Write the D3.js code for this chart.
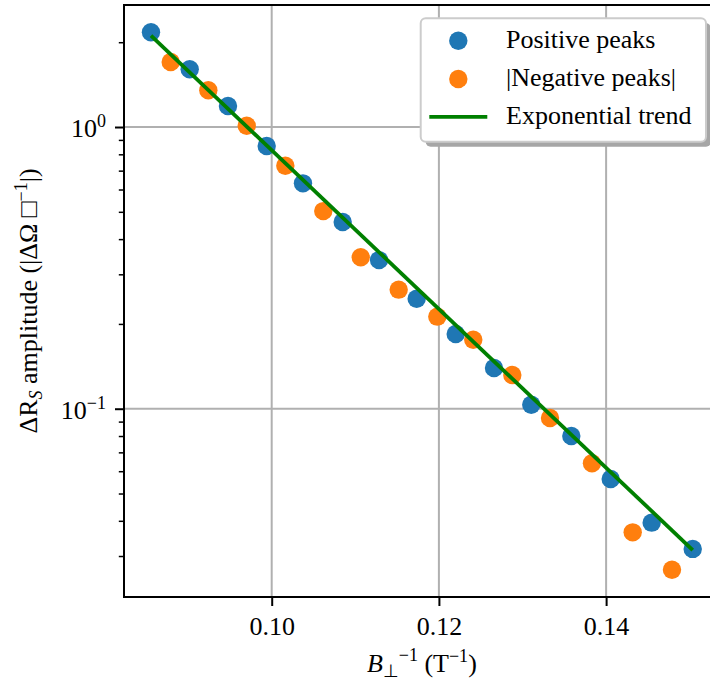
<!DOCTYPE html>
<html>
<head>
<meta charset="utf-8">
<script src="https://cdn.jsdelivr.net/npm/d3@7"></script>
<style>
  html, body { margin: 0; padding: 0; background: #fff; }
  svg { display: block; }
  text { font-family: "Liberation Serif", "Times New Roman", serif; fill: #000; }
</style>
</head>
<body>
<div id="chart"></div>
<script>
// ---- data ----
const posX = [0.08556, 0.09019, 0.09477, 0.09940, 0.10374, 0.10849, 0.11284, 0.11734,
              0.12201, 0.12659, 0.13105, 0.13584, 0.14055, 0.14545, 0.15036];
const posY = [2.169, 1.603, 1.187, 0.856, 0.631, 0.460, 0.337, 0.2458,
              0.1841, 0.1395, 0.1033, 0.0800, 0.0563, 0.0394, 0.0318];
const negX = [0.08792, 0.09242, 0.09701, 0.10163, 0.10617, 0.11065, 0.11519,
              0.11981, 0.12411, 0.12878, 0.13329, 0.13831, 0.14318, 0.14788];
const negY = [1.701, 1.350, 1.011, 0.729, 0.503, 0.345, 0.2646,
              0.2122, 0.1757, 0.1317, 0.0927, 0.0640, 0.0364, 0.0268];
const trendX = [0.08556, 0.15036];
const trendY = [2.110, 0.0315];

const xTicks = [0.10, 0.12, 0.14];
const xTickLabels = ["0.10", "0.12", "0.14"];
const yTicks = [1, 0.1];
const yTickExps = ["0", "\u22121"];
const yMinorTicks = [0.03, 0.04, 0.05, 0.06, 0.07, 0.08, 0.09,
                     0.2, 0.3, 0.4, 0.5, 0.6, 0.7, 0.8, 0.9, 2];
const legendLabels = ["Positive peaks", "|Negative peaks|", "Exponential trend"];

const colors = { pos: "#1f77b4", neg: "#ff7f0e", trend: "#008000", grid: "#b0b0b0" };

// ---- layout ----
const W = 710, H = 682;
const L = 124, T = 5, R = 719.7, B = 597;
const fs = 26;

const svg = d3.select("#chart").append("svg").attr("width", W).attr("height", H);

const x = d3.scaleLinear().domain([0.082333, 0.153587]).range([L, R]);
const y = d3.scaleLog().domain([0.02146, 2.711]).range([B, T]);

// grid
const grid = svg.append("g");
grid.selectAll("line.gx").data(xTicks).join("line")
  .attr("x1", d => x(d)).attr("x2", d => x(d)).attr("y1", T).attr("y2", B)
  .attr("stroke", colors.grid).attr("stroke-width", 2);
grid.selectAll("line.gy").data(yTicks).join("line")
  .attr("y1", d => y(d)).attr("y2", d => y(d)).attr("x1", L).attr("x2", R)
  .attr("stroke", colors.grid).attr("stroke-width", 2);

// points
const clip = svg.append("clipPath").attr("id", "clip").append("rect")
  .attr("x", L).attr("y", T).attr("width", R - L).attr("height", B - T);
const plot = svg.append("g").attr("clip-path", "url(#clip)");
plot.selectAll("circle.pos").data(posX).join("circle")
  .attr("cx", (d) => x(d)).attr("cy", (d, i) => y(posY[i])).attr("r", 9.2)
  .attr("fill", colors.pos);
plot.selectAll("circle.neg").data(negX).join("circle")
  .attr("cx", (d) => x(d)).attr("cy", (d, i) => y(negY[i])).attr("r", 9.2)
  .attr("fill", colors.neg);
const line = d3.line().x(d => x(d[0])).y(d => y(d[1]));
plot.append("path").datum(trendX.map((v, i) => [v, trendY[i]]))
  .attr("d", line).attr("fill", "none").attr("stroke", colors.trend)
  .attr("stroke-width", 3.8);

// axes
const xAxis = svg.append("g").attr("transform", `translate(0,${B})`)
  .call(d3.axisBottom(x).tickValues(xTicks).tickSize(9).tickSizeOuter(0)
    .tickFormat((d, i) => xTickLabels[i]));
xAxis.select(".domain").remove();
xAxis.selectAll(".tick line").attr("stroke", "#000").attr("stroke-width", 2);
xAxis.selectAll(".tick text").attr("y", 38).attr("dy", null)
  .attr("font-size", fs).attr("font-family", "Liberation Serif, serif");

const yAxis = svg.append("g").attr("transform", `translate(${L},0)`)
  .call(d3.axisLeft(y).tickValues(yTicks).tickSize(9).tickSizeOuter(0).tickFormat(""));
yAxis.select(".domain").remove();
yAxis.selectAll(".tick line").attr("stroke", "#000").attr("stroke-width", 2);
yAxis.selectAll(".tick text").remove();
yAxis.selectAll(".tick").each(function(d, i) {
  const t = d3.select(this).append("text")
    .attr("x", -18).attr("y", 9.5).attr("text-anchor", "end")
    .attr("font-size", fs);
  t.append("tspan").text("10");
  t.append("tspan").attr("dy", -10).attr("font-size", 18).text(yTickExps[i]);
});

const yMinor = svg.append("g").attr("transform", `translate(${L},0)`)
  .call(d3.axisLeft(y).tickValues(yMinorTicks).tickSize(5.2).tickSizeOuter(0).tickFormat(""));
yMinor.select(".domain").remove();
yMinor.selectAll(".tick line").attr("stroke", "#000").attr("stroke-width", 1.5);

// spines
const sp = svg.append("g").attr("stroke", "#000").attr("stroke-width", 2).attr("stroke-linecap", "square");
sp.append("line").attr("x1", L).attr("x2", L).attr("y1", T).attr("y2", B);
sp.append("line").attr("x1", L).attr("x2", R).attr("y1", B).attr("y2", B);
sp.append("line").attr("x1", L).attr("x2", R).attr("y1", T).attr("y2", T);
sp.append("line").attr("x1", R).attr("x2", R).attr("y1", T).attr("y2", B);

// x label
const xl = svg.append("text").attr("x", (L + R) / 2).attr("y", 672)
  .attr("text-anchor", "middle").attr("font-size", fs);
xl.append("tspan").attr("font-style", "italic").text("B");
xl.append("tspan").attr("dy", 5).attr("font-size", 18).text("\u22A5");
xl.append("tspan").attr("dy", -16).attr("font-size", 18).text("\u22121");
xl.append("tspan").attr("dy", 11).text(" (T");
xl.append("tspan").attr("dy", -10).attr("font-size", 18).text("\u22121");
xl.append("tspan").attr("dy", 10).text(")");

// y label
const yl = svg.append("text")
  .attr("transform", `translate(37,${(T + B) / 2}) rotate(-90)`)
  .attr("text-anchor", "middle").attr("font-size", fs);
yl.append("tspan").text("\u0394R");
yl.append("tspan").attr("dy", 5).attr("font-size", 18).attr("font-style", "italic").text("S");
yl.append("tspan").attr("dy", -5).text(" amplitude (|\u0394\u03A9 \u25A1");
yl.append("tspan").attr("dy", -10).attr("font-size", 18).text("\u22121");
yl.append("tspan").attr("dy", 10).text("|)");

// legend
const lg = svg.append("g");
const lx = 420.7, ly = 18.3, lw = 285.3, lh = 123.4;
lg.append("rect").attr("x", lx + 5).attr("y", ly + 5).attr("width", lw).attr("height", lh)
  .attr("rx", 5).attr("fill", "#a6a6a6");
lg.append("rect").attr("x", lx).attr("y", ly).attr("width", lw).attr("height", lh)
  .attr("rx", 5).attr("fill", "#fff").attr("stroke", "#cccccc").attr("stroke-width", 2);
const rowBase = [48, 86.3, 124.3];
lg.append("circle").attr("cx", 458.3).attr("cy", rowBase[0] - 7.3).attr("r", 9.2).attr("fill", colors.pos);
lg.append("circle").attr("cx", 458.3).attr("cy", rowBase[1] - 7.3).attr("r", 9.2).attr("fill", colors.neg);
lg.append("line").attr("x1", 429.3).attr("x2", 487.3)
  .attr("y1", rowBase[2] - 7.5).attr("y2", rowBase[2] - 7.5)
  .attr("stroke", colors.trend).attr("stroke-width", 3.8);
lg.selectAll("text.lt").data(legendLabels).join("text")
  .attr("x", 506).attr("y", (d, i) => rowBase[i]).attr("font-size", fs).text(d => d);
</script>
</body>
</html>
